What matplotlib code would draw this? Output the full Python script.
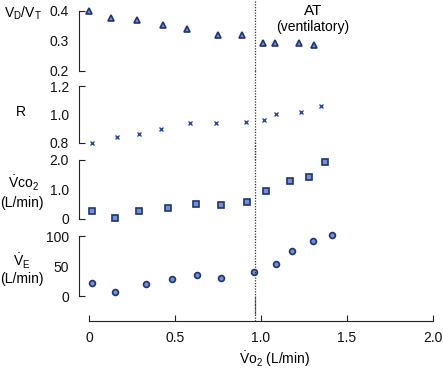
import matplotlib
matplotlib.use("Agg")
import matplotlib.pyplot as plt

plt.rcParams['font.family'] = ['Liberation Sans', 'DejaVu Sans']
plt.rcParams['mathtext.fontset'] = 'custom'
plt.rcParams['mathtext.rm'] = 'Liberation Sans'
plt.rcParams['mathtext.it'] = 'Liberation Sans:italic'
plt.rcParams['mathtext.bf'] = 'Liberation Sans:bold'

# ---- data ----
vdvt_x = [0.0, 0.13, 0.28, 0.43, 0.57, 0.75, 0.89, 1.01, 1.08, 1.22, 1.31]
vdvt_y = [0.40, 0.377, 0.37, 0.353, 0.34, 0.32, 0.32, 0.293, 0.293, 0.295, 0.287]

r_x = [0.02, 0.16, 0.29, 0.42, 0.59, 0.74, 0.91, 1.02, 1.09, 1.23, 1.35]
r_y = [0.80, 0.84, 0.86, 0.90, 0.94, 0.94, 0.95, 0.96, 1.00, 1.02, 1.06]

vco2_x = [0.02, 0.15, 0.29, 0.46, 0.62, 0.77, 0.92, 1.03, 1.17, 1.28, 1.37]
vco2_y = [0.27, 0.02, 0.27, 0.37, 0.50, 0.46, 0.58, 0.95, 1.29, 1.42, 1.93]

ve_x = [0.02, 0.15, 0.33, 0.48, 0.63, 0.77, 0.96, 1.09, 1.18, 1.30, 1.41]
ve_y = [22, 7, 20, 28, 35, 30, 40, 53, 75, 92, 102]

at_x = 0.965

panels = [
    dict(x=vdvt_x, y=vdvt_y, lim=(0.2, 0.4), ticks=[0.2, 0.3, 0.4],
         labels=['0.2', '0.3', '0.4'], marker='^', ms=4.2, top=11, bot=71),
    dict(x=r_x, y=r_y, lim=(0.8, 1.2), ticks=[0.8, 1.0, 1.2],
         labels=['0.8', '1.0', '1.2'], marker='x', ms=3.2, top=86, bot=143),
    dict(x=vco2_x, y=vco2_y, lim=(0.0, 2.0), ticks=[0.0, 1.0, 2.0],
         labels=['0', '1.0', '2.0'], marker='s', ms=4.0, top=160, bot=219),
    dict(x=ve_x, y=ve_y, lim=(0, 100), ticks=[0, 50, 100],
         labels=['0', '50', '100'], marker='o', ms=4.2, top=236, bot=296),
]

W, H = 443, 373
fig = plt.figure(figsize=(W / 100, H / 100), dpi=100)

edge = '#1d3577'
fill = '#7890c8'
xlim = (-0.06, 2.0)
left = 78.7 / W
width = (433 - 78.7) / W
fs = 10

axes = []
for i, p in enumerate(panels):
    ax = fig.add_axes([left, 1 - p['bot'] / H, width, (p['bot'] - p['top']) / H])
    ax.set_xlim(*xlim)
    ax.set_ylim(*p['lim'])
    ax.patch.set_alpha(0)
    for s in ['top', 'right']:
        ax.spines[s].set_visible(False)
    ax.spines['left'].set_linewidth(0.8)
    ax.spines['left'].set_color('#222222')
    if p['marker'] == 'x':
        ax.plot(p['x'], p['y'], linestyle='none', marker='x', ms=p['ms'],
                mew=1.0, color='#2a4a9a', clip_on=False)
    else:
        ax.plot(p['x'], p['y'], linestyle='none', marker=p['marker'], ms=p['ms'],
                mec=edge, mfc=fill, mew=1.2, clip_on=False)
    ax.set_yticks(p['ticks'])
    ax.set_yticklabels(p['labels'])
    ax.tick_params(axis='y', which='major', length=4, direction='in', width=0.8,
                   color='#222222', pad=7, labelsize=fs, labelcolor='#111111')
    for t in ax.yaxis.get_major_ticks()[1:-1]:
        t.tick1line.set_visible(False)
    ax.axvline(at_x, ymin=-0.3 if i > 0 else 0, ymax=1.3 if i < 3 else 1.0,
               color='#333333', linestyle=(0, (1, 1.2)), linewidth=0.9,
               clip_on=False)
    if i < 3:
        ax.spines['bottom'].set_visible(False)
        ax.set_xticks([])
    axes.append(ax)

# bottom x axis
axb = axes[-1]
axb.spines['bottom'].set_position(('outward', 18))
axb.spines['bottom'].set_bounds(0, 2.0)
axb.spines['bottom'].set_linewidth(0.8)
axb.spines['bottom'].set_color('#222222')
xticks = [0, 0.5, 1.0, 1.5, 2.0]
axb.set_xticks(xticks)
axb.set_xticklabels(['0', '0.5', '1.0', '1.5', '2.0'])
axb.tick_params(axis='x', direction='in', length=4, width=0.8, pad=7,
                labelsize=fs, labelcolor='#111111', color='#222222')
axb.axvline(at_x, ymin=-0.41, ymax=0, color='#333333',
            linestyle=(0, (1, 1.2)), linewidth=0.9, clip_on=False)

def ftext(px, py, s, **kw):
    fig.text(px / W, 1 - py / H, s, **kw)

ftext(23, 13, r'V$_\mathrm{D}$/V$_\mathrm{T}$', ha='center', va='center', fontsize=fs)
ftext(21, 112, 'R', ha='center', va='center', fontsize=fs)
ftext(23, 183, r'$\dot{\mathrm{V}}\mathrm{co}_2$', ha='center', va='center', fontsize=fs)
ftext(22, 203, '(L/min)', ha='center', va='center', fontsize=fs)
ftext(22, 261, r'$\dot{\mathrm{V}}_\mathrm{E}$', ha='center', va='center', fontsize=fs)
ftext(22, 279, '(L/min)', ha='center', va='center', fontsize=fs)
ftext(313, 11, 'AT', ha='center', va='center', fontsize=fs + 1)
ftext(313, 27, '(ventilatory)', ha='center', va='center', fontsize=fs)
ftext(275, 359, r'$\dot{\mathrm{V}}\mathrm{o}_2$ (L/min)', ha='center', va='center', fontsize=fs)

fig.savefig('out.png', dpi=100)
